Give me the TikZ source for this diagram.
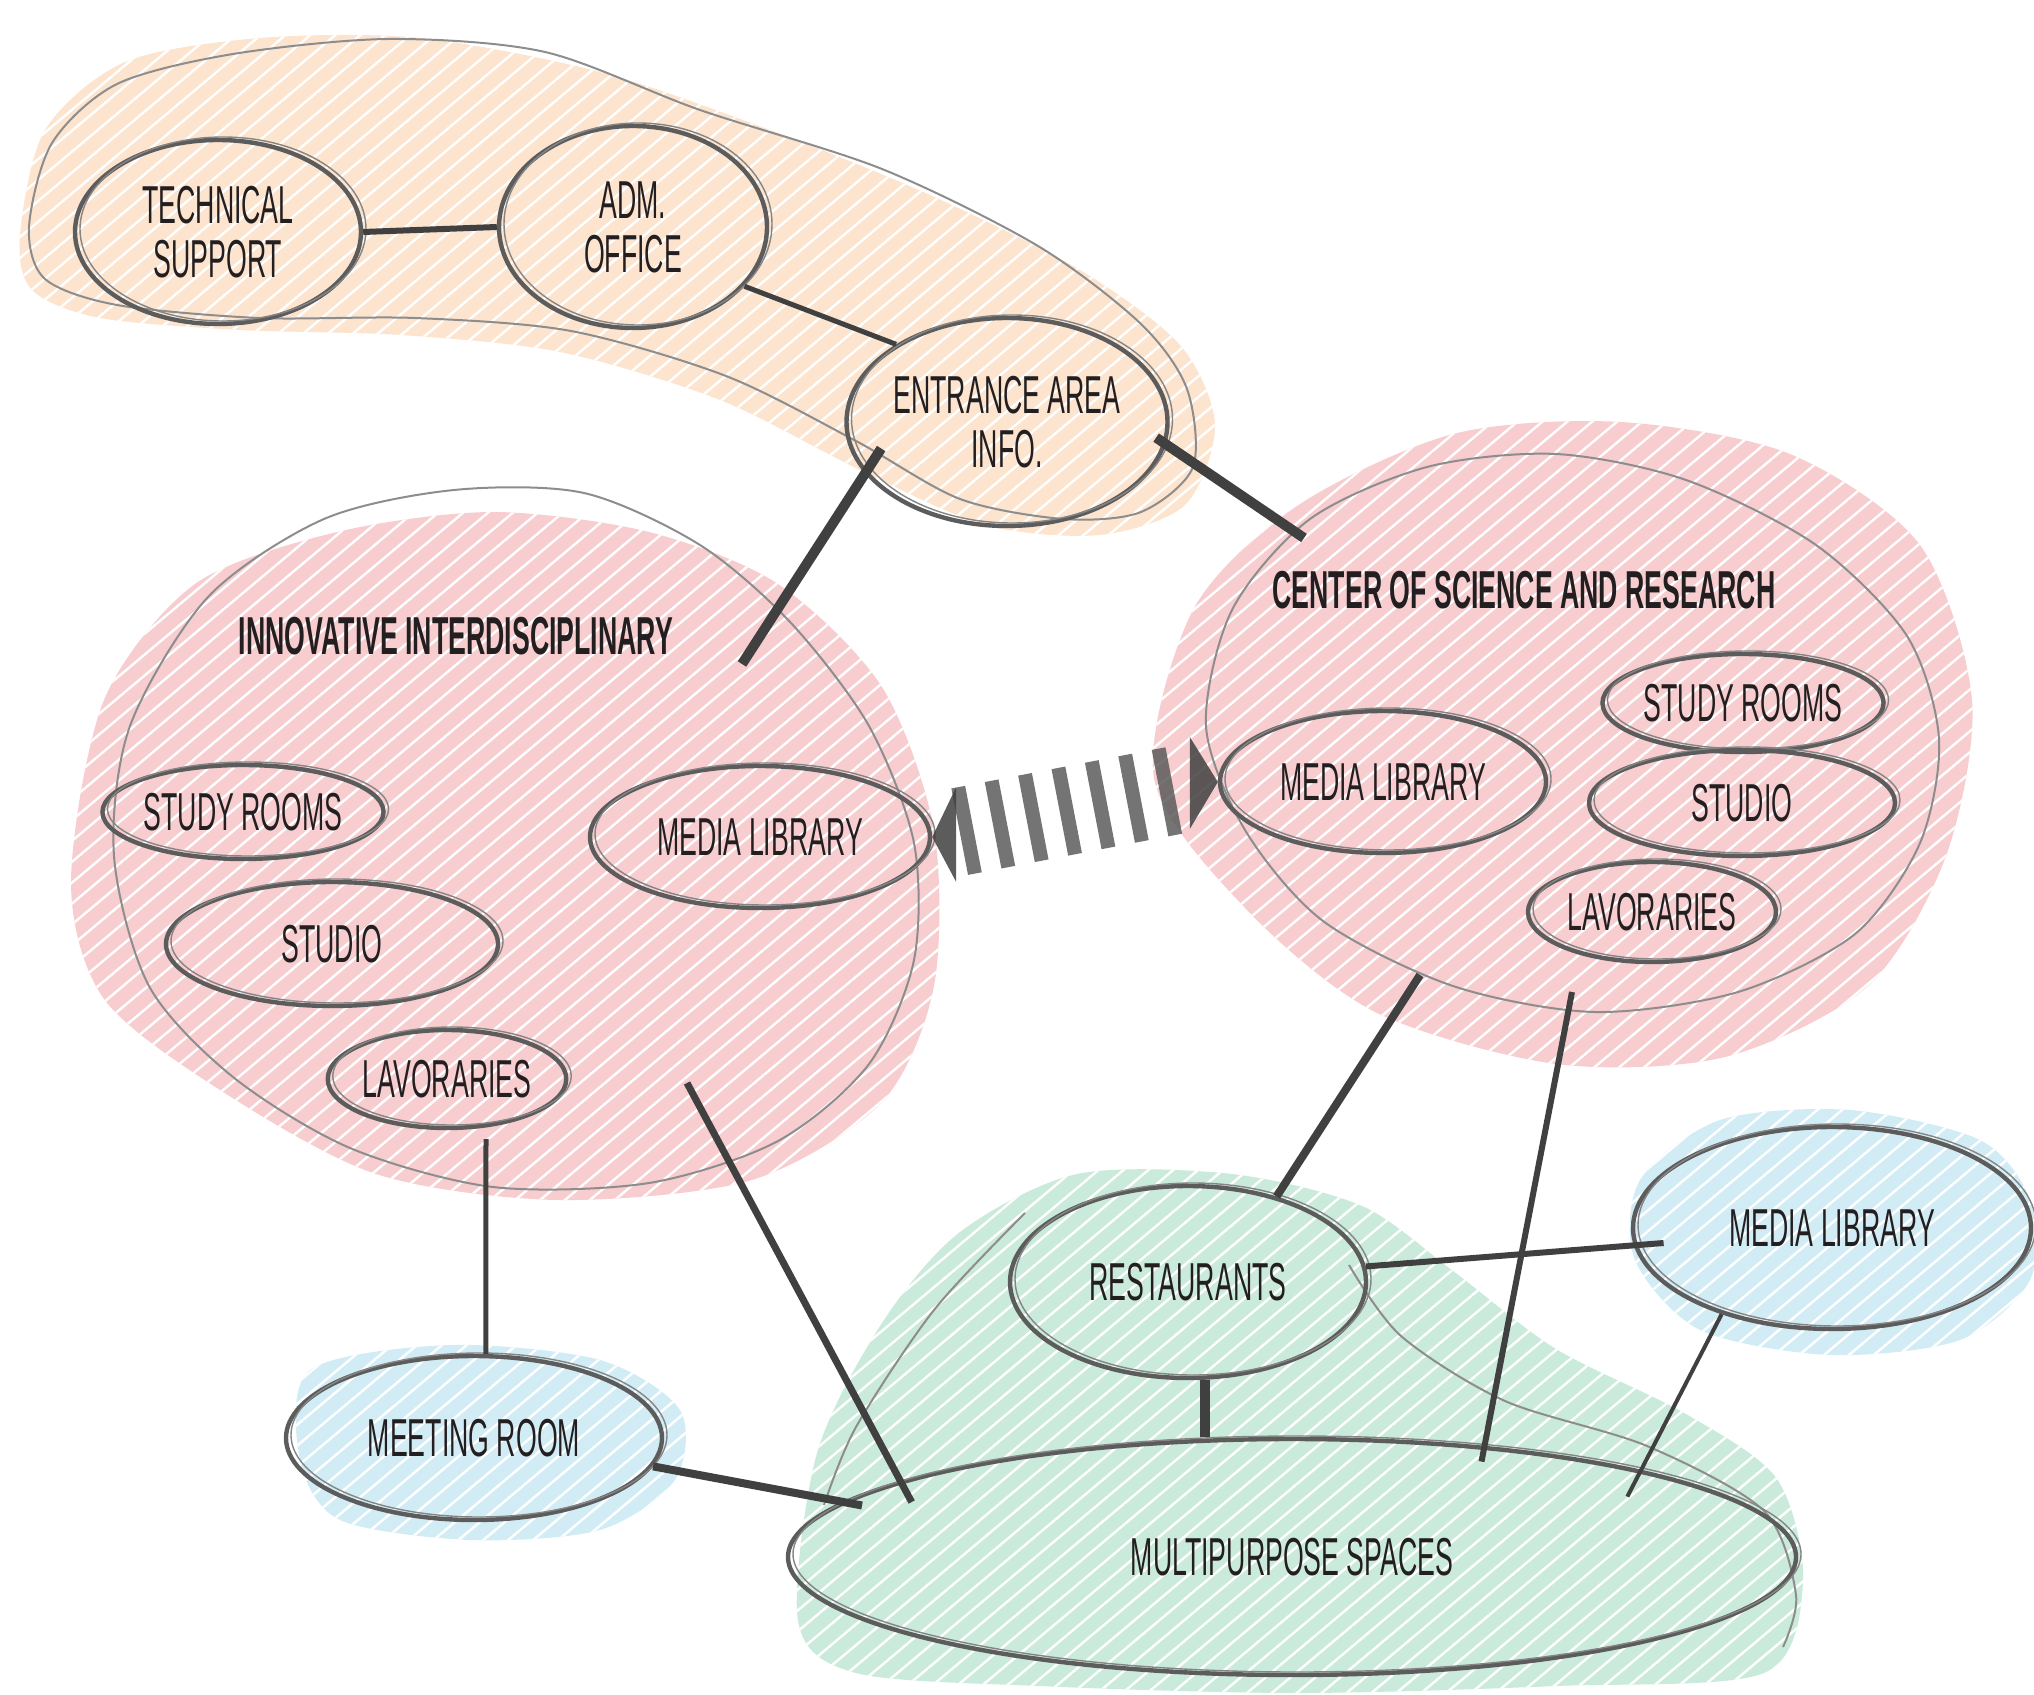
\documentclass[tikz,border=0pt]{standalone}
\usepackage{fontspec}
\setmainfont{Liberation Sans}[FakeStretch=0.5]
\usetikzlibrary{shapes.geometric,patterns.meta}
\definecolor{pencil}{RGB}{92,92,92}
\definecolor{lead}{RGB}{64,64,64}
\definecolor{ink}{RGB}{35,31,32}
\definecolor{peach}{RGB}{252,228,206}
\definecolor{rose}{RGB}{247,205,208}
\definecolor{mint}{RGB}{202,234,219}
\definecolor{sky}{RGB}{210,236,245}
\tikzset{
  room/.style={ellipse, draw=pencil, line width=2.2pt, inner sep=0pt, text=ink, align=center,
    font=\fontsize{26.7}{27}\selectfont,
    postaction={draw=pencil!75, line width=0.7pt, transform canvas={shift={(2.5pt,1.5pt)}}}},
  title/.style={text=ink, font=\bfseries\fontsize{26.7}{27}\selectfont},
  zone/.style={draw=pencil!70, line width=1pt},
  hatch/.style={pattern={Lines[angle=40,distance=8pt,line width=1.2pt]}, pattern color=white},
  link/.style={draw=lead, line width=#1},
  link/.default=3pt,
}
\begin{document}
\begin{tikzpicture}[x=0.5pt,y=0.5pt,yscale=-1,xscale=1]
\useasboundingbox (0,0) rectangle (2034,1695);

%Shape: Blob [admin zone fill]
\path[fill=peach, postaction={hatch}] plot[smooth cycle] coordinates {(20,235) (45,130) (125,62) (260,38) (420,38) (600,72) (770,130) (930,195) (1080,270) (1180,345) (1215,425) (1185,505) (1100,535) (985,525) (860,470) (720,400) (560,352) (400,335) (240,330) (100,318) (32,290)};
%Shape: Blob [innovative zone fill]
\path[fill=rose, postaction={hatch}] plot[smooth cycle] coordinates {(71,882) (104,700) (195,584) (337,532) (493,512) (649,532) (778,584) (882,687) (934,830) (934,986) (882,1102) (752,1180) (558,1200) (376,1174) (220,1090) (104,999)};
%Shape: Blob [science zone fill]
\path[fill=rose, postaction={hatch}] plot[smooth cycle] coordinates {(1154,778) (1193,610) (1297,506) (1453,434) (1621,422) (1790,454) (1920,545) (1972,700) (1946,856) (1868,986) (1725,1057) (1556,1064) (1375,1012) (1245,908)};
%Shape: Blob [common zone fill]
\path[fill=mint, postaction={hatch}] plot[smooth cycle] coordinates {(798,1621) (817,1453) (882,1323) (960,1232) (1077,1174) (1232,1174) (1362,1206) (1453,1271) (1556,1349) (1686,1414) (1777,1479) (1803,1582) (1764,1673) (1556,1686) (1297,1693) (1038,1686) (856,1673)};
%Shape: Blob [meeting fill]
\path[fill=sky, postaction={hatch}] plot[smooth cycle] coordinates {(310,1370) (450,1345) (600,1360) (680,1410) (675,1480) (600,1530) (470,1540) (340,1520) (300,1460)};
%Shape: Blob [media fill]
\path[fill=sky, postaction={hatch}] plot[smooth cycle] coordinates {(1640,1180) (1720,1120) (1850,1110) (1980,1140) (2030,1200) (2030,1280) (1960,1340) (1830,1355) (1700,1330) (1635,1260)};

%Shape: Outline [admin zone]
\draw[zone] plot[smooth cycle] coordinates {(29,227) (52,143) (117,84) (233,54) (389,39) (545,52) (700,110) (882,169) (1038,246) (1141,324) (1187,389) (1193,467) (1141,512) (1064,519) (960,499) (856,441) (726,376) (571,331) (415,318) (259,318) (117,305) (45,279)};
%Shape: Outline [innovative zone]
\draw[zone] plot[smooth cycle] coordinates {(114,856) (130,726) (208,597) (324,519) (454,490) (584,493) (700,545) (791,623) (869,726) (914,843) (914,960) (869,1064) (778,1141) (649,1183) (493,1187) (350,1148) (233,1077) (149,986)};
%Shape: Outline [science zone]
\draw[zone] plot[smooth cycle] coordinates {(1206,726) (1232,610) (1310,519) (1427,467) (1556,454) (1686,480) (1816,545) (1907,636) (1939,739) (1920,843) (1855,934) (1738,992) (1595,1012) (1453,986) (1323,921) (1245,830)};
%Curve Lines [common zone]
\draw[zone] plot[smooth] coordinates {(1025,1213) (934,1310) (856,1427) (824,1505)};
\draw[zone] plot[smooth] coordinates {(1349,1265) (1401,1336) (1505,1401) (1647,1446) (1764,1511) (1796,1595) (1783,1647)};

%Shape: Ellipse [admin]
\node[room, minimum width=143pt, minimum height=92pt] (techsup) at (218,232) {TECHNICAL\\SUPPORT};
\node[room, minimum width=134pt, minimum height=101pt] (admoff) at (633,227) {ADM.\\OFFICE};
\node[room, minimum width=151pt, minimum height=104pt] (entrance) at (1007,422) {ENTRANCE AREA\\INFO.};

%Text [innovative]
\node[title] (innotitle) at (456,636) {INNOVATIVE INTERDISCIPLINARY};
%Shape: Ellipse [innovative]
\node[room, minimum width=122pt, minimum height=47pt] (studyL) at (243,812) {STUDY ROOMS};
\node[room, minimum width=166pt, minimum height=62pt] (studioL) at (332,944) {STUDIO};
\node[room, minimum width=113pt, minimum height=49pt] (lavL) at (447,1079) {LAVORARIES};
\node[room, minimum width=170pt, minimum height=71pt] (medL) at (760,837) {MEDIA LIBRARY};

%Text [science]
\node[title] (scititle) at (1524,590) {CENTER OF SCIENCE AND RESEARCH};
%Shape: Ellipse [science]
\node[room, minimum width=163pt, minimum height=71pt] (medR) at (1383,782) {MEDIA LIBRARY};
\node[room, minimum width=114pt, minimum height=49pt] (studyR) at (1743,703) {STUDY ROOMS};
\node[room, minimum width=153pt, minimum height=53pt] (studioR) at (1742,803) {STUDIO};
\node[room, minimum width=124pt, minimum height=50pt] (lavR) at (1652,912) {LAVORARIES};

%Shape: Ellipse [common]
\node[room, minimum width=178pt, minimum height=96pt] (rest) at (1188,1282) {RESTAURANTS};
\node[room, minimum width=199pt, minimum height=101pt] (bluemed) at (1832,1228) {MEDIA LIBRARY};
\node[room, minimum width=188pt, minimum height=82pt] (meeting) at (474,1438) {MEETING ROOM};
\node[room, minimum width=504pt, minimum height=118pt] (multi) at (1292,1557) {MULTIPURPOSE SPACES};

%Points on zone outlines
\coordinate (innoNE) at (742,664);
\coordinate (innoS) at (486,1139);
\coordinate (innoSE) at (687,1083);
\coordinate (sciNW) at (1304,538);
\coordinate (sciS1) at (1420,975);
\coordinate (sciS2) at (1572,992);

%Straight Lines
\draw[link=3pt] (techsup.east) -- (admoff.west);
\draw[link=2.5pt] (admoff.-28) -- (entrance.145);
\draw[link=5pt, shorten <=-15pt] (entrance.200) -- (innoNE);
\draw[link=5pt, shorten <=-6pt] (entrance.-8) -- (sciNW);
\draw[link=2.5pt] (innoS) -- (meeting.82);
\draw[link=3.5pt, shorten >=-12pt] (innoSE) -- (multi.169);
\draw[link=4pt] (sciS1) -- (rest.44);
\draw[link=3pt, shorten >=-8pt] (sciS2) -- (multi.30);
\draw[link=3pt, shorten >=-15pt] (rest.5) -- (bluemed.185);
\draw[link=2pt, shorten >=-15pt] (bluemed.218) -- (multi.14);
\draw[link=5pt] (rest.-80) -- (rest.-80 |- multi.north);
\draw[link=4pt, shorten >=-10pt] (meeting.-9) -- (multi.173);

%Hatched link [media libraries]
\draw[pencil, opacity=0.85, line width=44pt, dash pattern=on 7pt off 10pt, shorten <=14pt, shorten >=16pt] (medL.east) -- (medR.west);
\fill[lead, opacity=0.85] (medL.east) -- ++(24,-50) -- ++(0,95) -- cycle;
\fill[lead, opacity=0.85] (medR.west) -- ++(-28,-45) -- ++(0,92) -- cycle;

\end{tikzpicture}
\end{document}
